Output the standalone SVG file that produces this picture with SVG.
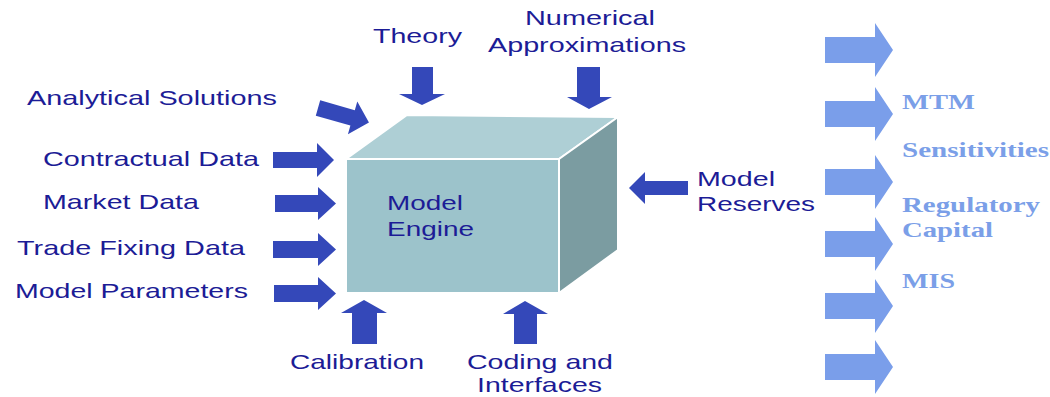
<svg xmlns="http://www.w3.org/2000/svg" width="1050" height="397" viewBox="0 0 1050 397">
<style>
.lbl{font-family:"Liberation Sans",Arial,sans-serif;font-size:21px;fill:#1c1c96}
.out{font-family:"Liberation Serif","Times New Roman",serif;font-size:21px;font-weight:bold;fill:#7b9fe8}
.dk{fill:#3448b9}
.lt{fill:#7a9eea}
.face{stroke:#ffffff;stroke-width:2;stroke-linejoin:round}
</style>
<rect width="1050" height="397" fill="#ffffff"/>
<g id="engine">
<polygon class="face" points="346,159 407,115 618,117 559,159" fill="#aecfd5"/>
<polygon class="face" points="559,159 618,117 618,250 559,293" fill="#7b9ca1"/>
<polygon class="face" points="346,159 559,159 559,293 346,293" fill="#9cc3cb"/>
<text class="lbl" x="387" y="210" textLength="76" lengthAdjust="spacingAndGlyphs">Model</text>
<text class="lbl" x="387" y="236" textLength="87" lengthAdjust="spacingAndGlyphs">Engine</text>
</g>
<g id="inputs-labels">
<g id="theory"><text class="lbl" x="373" y="43" textLength="89" lengthAdjust="spacingAndGlyphs">Theory</text></g>
<g id="numerical"><text class="lbl" x="525" y="25" textLength="130" lengthAdjust="spacingAndGlyphs">Numerical</text><text class="lbl" x="488" y="52" textLength="198" lengthAdjust="spacingAndGlyphs">Approximations</text></g>
<g id="analytical"><text class="lbl" x="27" y="105" textLength="250" lengthAdjust="spacingAndGlyphs">Analytical Solutions</text></g>
<g id="contractual"><text class="lbl" x="43" y="166" textLength="216" lengthAdjust="spacingAndGlyphs">Contractual Data</text></g>
<g id="market"><text class="lbl" x="43" y="209" textLength="156" lengthAdjust="spacingAndGlyphs">Market Data</text></g>
<g id="trade"><text class="lbl" x="17" y="255" textLength="228" lengthAdjust="spacingAndGlyphs">Trade Fixing Data</text></g>
<g id="params"><text class="lbl" x="15" y="298" textLength="233" lengthAdjust="spacingAndGlyphs">Model Parameters</text></g>
<g id="calibration"><text class="lbl" x="290" y="369" textLength="134" lengthAdjust="spacingAndGlyphs">Calibration</text></g>
<g id="coding"><text class="lbl" x="467" y="369" textLength="146" lengthAdjust="spacingAndGlyphs">Coding and</text><text class="lbl" x="477" y="392" textLength="125" lengthAdjust="spacingAndGlyphs">Interfaces</text></g>
<g id="reserves"><text class="lbl" x="697" y="186" textLength="78" lengthAdjust="spacingAndGlyphs">Model</text><text class="lbl" x="697" y="211" textLength="118" lengthAdjust="spacingAndGlyphs">Reserves</text></g>
</g>
<g id="outputs">
<g id="mtm"><text class="out" x="902" y="109" textLength="73" lengthAdjust="spacingAndGlyphs">MTM</text></g>
<g id="sens"><text class="out" x="902" y="157" textLength="147" lengthAdjust="spacingAndGlyphs">Sensitivities</text></g>
<g id="regcap"><text class="out" x="902" y="212" textLength="138" lengthAdjust="spacingAndGlyphs">Regulatory</text><text class="out" x="902" y="237" textLength="91" lengthAdjust="spacingAndGlyphs">Capital</text></g>
<g id="mis"><text class="out" x="902" y="288" textLength="53" lengthAdjust="spacingAndGlyphs">MIS</text></g>
</g>
<g id="connectors">
<polygon class="dk" points="273,152 317,152 317,143 334,160 317,177 317,168 273,168"/>
<polygon class="dk" points="275,195 318,195 318,187 336,203.5 318,220 318,212 275,212"/>
<polygon class="dk" points="273,241 318,241 318,233 336,249.5 318,266 318,258 273,258"/>
<polygon class="dk" points="274,285 318,285 318,277 336,293.5 318,310 318,302 274,302"/>
<polygon class="dk" transform="translate(318,108) rotate(16)" points="0,-8 36,-8 36,-17 53,0 36,17 36,8 0,8"/>
<polygon class="dk" points="412,67 433,67 433,94 445,94 422,105 399,94 412,94"/>
<polygon class="dk" points="577,67 600,67 600,97 612,97 589,109 567,97 577,97"/>
<polygon class="dk" points="352,344 377,344 377,313 387,313 364,300 341,313 352,313"/>
<polygon class="dk" points="514,344 537,344 537,314 548,314 525,301 503,314 514,314"/>
<polygon class="dk" points="688,181 645,181 645,172 629,188 645,204 645,195 688,195"/>
<polygon class="lt" points="825,37 875,37 875,23 893,50 875,77 875,63 825,63"/>
<polygon class="lt" points="825,101 875,101 875,87 893,114 875,141 875,127 825,127"/>
<polygon class="lt" points="825,169 875,169 875,155 893,182 875,209 875,195 825,195"/>
<polygon class="lt" points="825,231 875,231 875,217 893,244 875,271 875,257 825,257"/>
<polygon class="lt" points="825,293 875,293 875,279 893,306 875,333 875,319 825,319"/>
<polygon class="lt" points="825,354 875,354 875,340 893,367 875,394 875,380 825,380"/>
</g>
</svg>
